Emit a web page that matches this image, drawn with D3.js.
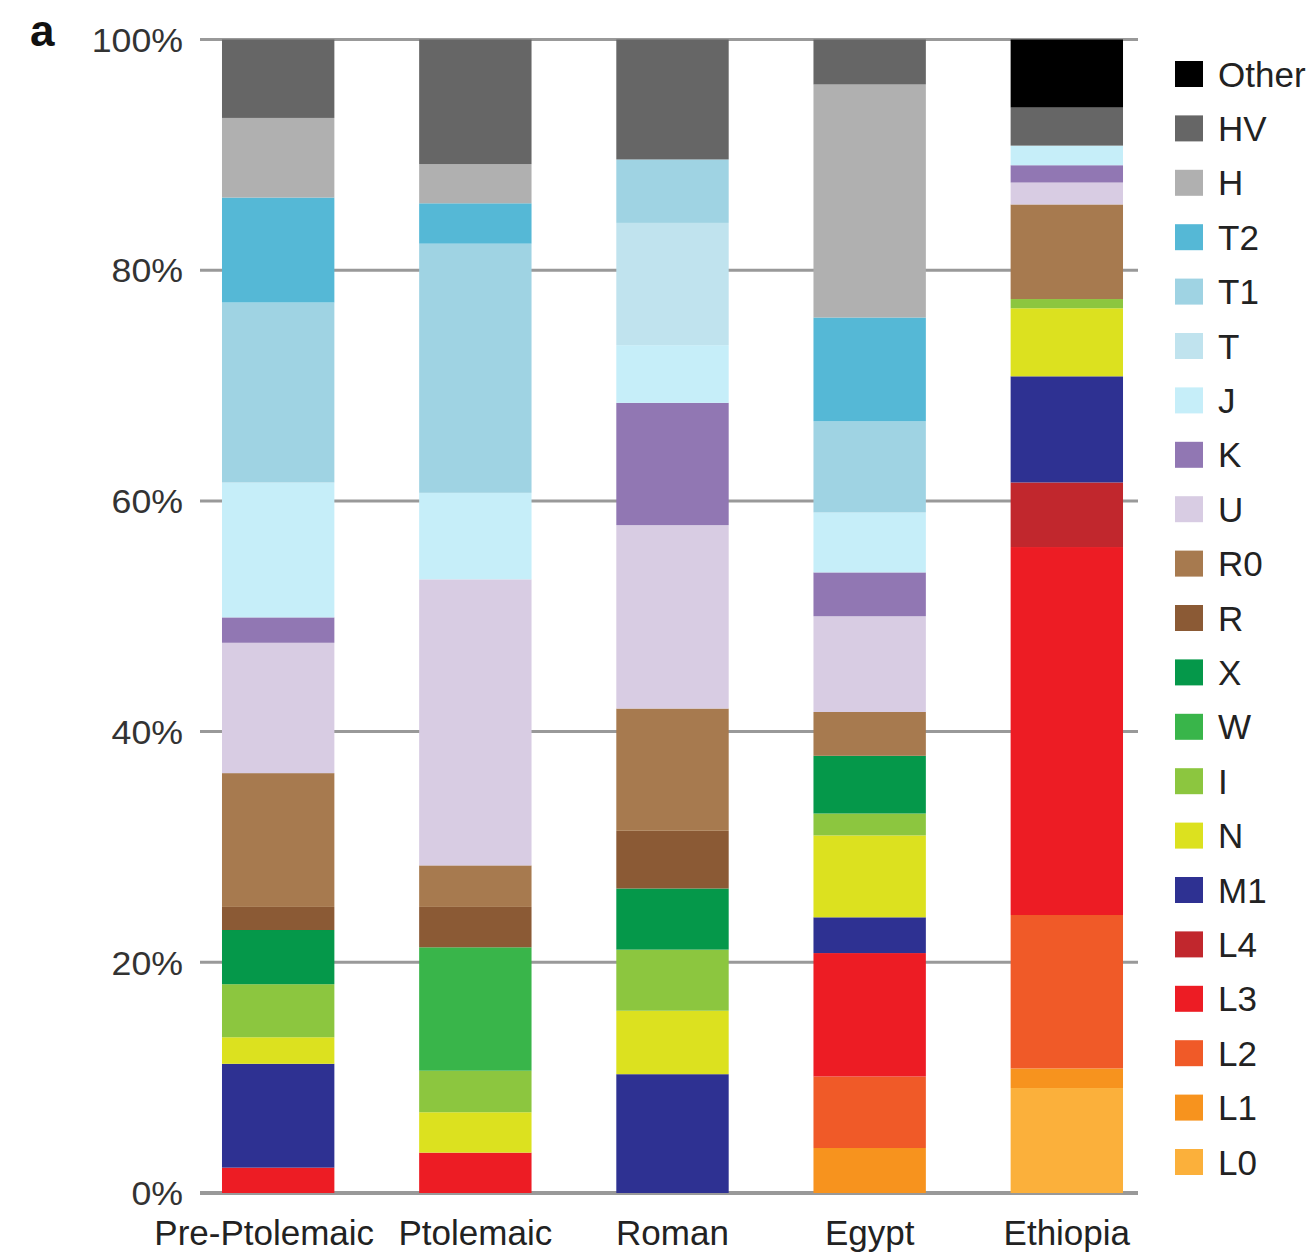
<!DOCTYPE html>
<html>
<head>
<meta charset="utf-8">
<script src="https://cdn.jsdelivr.net/npm/d3@7"></script>
<style>
  body { margin: 0; background: #fff; }
  svg { display: block; font-family: "Liberation Sans", Arial, sans-serif; }
</style>
</head>
<body>
<svg id="chart" width="1315" height="1254"></svg>
<script>
// populations along the x axis
var populations = ["Pre-Ptolemaic", "Ptolemaic", "Roman", "Egypt", "Ethiopia"];

// haplogroups, stacked from the bottom up
var haplogroups = ["L0", "L1", "L2", "L3", "L4", "M1", "N", "I", "W", "X", "R", "R0", "U", "K", "J", "T", "T1", "T2", "H", "HV", "Other"];
var haploColors = ["#fbb03b", "#f7931e", "#f05a28", "#ed1c24", "#c1272d", "#2e3192", "#dce11f", "#8cc63f", "#39b54a", "#05984a",
                   "#8b5a35", "#a77a4f", "#d8cce3", "#9177b3", "#c6eef9", "#c0e3ee", "#9fd3e3", "#55b8d6", "#b0b0b0", "#666666", "#000000"];

// percentages per population, same order as haplogroups
var prePtolemaic = [0, 0, 0, 2.2, 0, 9.0, 2.3, 4.6, 0, 4.7, 2.0, 11.6, 11.3, 2.2, 11.7, 0, 15.6, 9.1, 6.9, 6.8, 0];
var ptolemaic    = [0, 0, 0, 3.5, 0, 0, 3.5, 3.6, 10.7, 0, 3.5, 3.6, 24.8, 0, 7.5, 0, 21.6, 3.5, 3.4, 10.8, 0];
var roman        = [0, 0, 0, 0, 0, 10.3, 5.5, 5.3, 0, 5.3, 5.0, 10.6, 15.9, 10.6, 5.0, 10.6, 5.5, 0, 0, 10.4, 0];
var egypt        = [0, 3.9, 6.2, 10.7, 0, 3.1, 7.1, 1.9, 0, 5.0, 0, 3.8, 8.3, 3.8, 5.2, 0, 7.9, 9.0, 20.2, 3.9, 0];
var ethiopia     = [9.1, 1.7, 13.3, 31.9, 5.6, 9.2, 5.9, 0.8, 0, 0, 0, 8.2, 1.9, 1.5, 1.7, 0, 0, 0, 0, 3.3, 5.9];

var yTicks = [0, 20, 40, 60, 80, 100];

var series = [prePtolemaic, ptolemaic, roman, egypt, ethiopia];
var rows = populations.map(function(p, i) {
    var row = {population: p};
    haplogroups.forEach(function(h, j) { row[h] = series[i][j]; });
    return row;
});

var svg = d3.select("#chart");

var x = d3.scaleBand()
        .domain(populations)
        .range([179.6, 1165.4])
        .paddingInner(0.43)
        .paddingOuter(0.215);

var y = d3.scaleLinear()
        .domain([0, 100])
        .range([1193, 39.5]);

var color = d3.scaleOrdinal().domain(haplogroups).range(haploColors);

// grid lines
svg.append("g").selectAll("line")
    .data(yTicks)
    .enter().append("line")
    .attr("x1", 200).attr("x2", 1138)
    .attr("y1", function(d) { return y(d); })
    .attr("y2", function(d) { return y(d); })
    .attr("stroke", "#999")
    .attr("stroke-width", function(d) { return d === 0 ? 4 : 3; });

// tick labels
svg.append("g").selectAll("text")
    .data(yTicks)
    .enter().append("text")
    .attr("transform", function(d) { return "translate(183," + y(d) + ") scale(1.05,1)"; })
    .attr("dy", "0.36em")
    .attr("text-anchor", "end")
    .attr("font-size", 34)
    .attr("fill", "#333")
    .text(function(d) { return d + "%"; });

// stacked bars
var stacked = d3.stack().keys(haplogroups)(rows);

svg.append("g").selectAll("g")
    .data(stacked)
    .enter().append("g")
    .attr("fill", function(d) { return color(d.key); })
    .selectAll("rect")
    .data(function(d) { return d; })
    .enter().append("rect")
    .attr("x", function(d) { return x(d.data.population); })
    .attr("width", x.bandwidth())
    .attr("y", function(d) { return y(d[1]); })
    .attr("height", function(d) { return Math.max(0, y(d[0]) - y(d[1])); });

// population labels
svg.append("g").selectAll("text")
    .data(populations)
    .enter().append("text")
    .attr("x", function(d, i) { return x(d) + x.bandwidth() / 2 - (i === 0 ? 14 : 0); })
    .attr("y", 1245)
    .attr("text-anchor", "middle")
    .attr("font-size", 35)
    .attr("fill", "#222")
    .text(function(d) { return d; });

// legend, top item is the top of the stack
var legendItems = haplogroups.slice().reverse();
var legend = svg.append("g").selectAll("g")
    .data(legendItems)
    .enter().append("g")
    .attr("transform", function(d, i) { return "translate(1175," + (74 + i * 54.4) + ")"; });

legend.append("rect")
    .attr("x", 0).attr("y", -13)
    .attr("width", 28).attr("height", 26)
    .attr("fill", function(d) { return color(d); });

legend.append("text")
    .attr("x", 43)
    .attr("dy", "0.36em")
    .attr("font-size", 35)
    .attr("fill", "#222")
    .text(function(d) { return d; });

// panel letter
svg.append("text")
    .attr("x", 30)
    .attr("y", 46)
    .attr("font-size", 44)
    .attr("font-weight", "bold")
    .attr("fill", "#111")
    .text("a");
</script>
</body>
</html>
